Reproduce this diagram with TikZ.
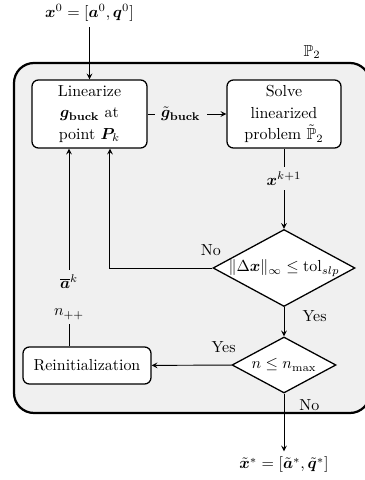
\documentclass[tikz,border=0pt]{standalone}
\usepackage{amsmath,amssymb,bm}
\usetikzlibrary{calc,positioning,shapes.geometric}
\definecolor{panelgray}{gray}{0.94}
\tikzset{
  procbox/.style={draw,thick,rounded corners=4pt,fill=white,align=center,inner sep=3pt},
  decision/.style={draw,thick,diamond,aspect=1.85,fill=white,inner sep=0pt},
  flow/.style={->,>=stealth,semithick},
  onpanel/.style={fill=panelgray,inner sep=3pt},
}

\begin{document}
\begin{tikzpicture}
        \useasboundingbox (0,0) rectangle (8.008,10.56);
        % The panel of problem P2
        \draw[line width=1.4pt,rounded corners=0.44cm,fill=panelgray] (0.308,1.474) rectangle (8.14,9.174);
        \node (ptwo) at (6.864,9.416) {$\mathbb{P}_2$};

        % Start and result
        \node (init) at (1.969,10.274) {$\bm x^0=[\bm a^0,\bm q^0]$};
        \node (result) at (6.248,0.33) {$\tilde{\bm x}^*=[\tilde{\bm a}^*,\tilde{\bm q}^*]$};

        % The steps
        \node[procbox,minimum width=2.53cm,minimum height=1.496cm] (lin) at (1.969,8.052)
          {Linearize\\[1.5pt] $\bm g_{\mathbf{buck}}$ at\\[1.5pt] point $\bm P_k$};
        \node[procbox,minimum width=2.508cm,minimum height=1.496cm] (sol) at (6.248,8.052)
          {Solve\\[1.5pt] linearized\\[1.5pt] problem $\tilde{\mathbb{P}}_2$};
        \node[decision,minimum width=3.124cm,minimum height=1.694cm] (conv) at (6.248,4.664)
          {$\|\Delta\bm x\|_\infty\leq\mathrm{tol}_{slp}$};
        \node[decision,minimum width=2.288cm,minimum height=1.232cm] (iter) at (6.248,2.53)
          {$n\leq n_{\max}$};
        \node[procbox,minimum width=2.816cm,minimum height=0.814cm] (reinit) at (1.914,2.519)
          {Reinitialization};

        % Feedback points under the first step
        \coordinate (backl) at ($(lin.south)+(-0.45,0)$);
        \coordinate (backr) at ($(lin.south)+(0.45,0)$);

        % The connectors
        \draw[flow] (init) -- (lin);
        \draw[flow] (lin) -- node[onpanel,pos=0.42,inner sep=4pt] {$\tilde{\bm g}_{\mathbf{buck}}$} (sol);
        \draw[flow] (sol) -- node[onpanel,pos=0.37] {$\bm x^{k+1}$} (conv);
        \draw[flow] (conv.west) -- node[pos=0.0,above left=4pt and -9pt] {No} (conv.west -| backr) -- (backr);
        \draw[flow] (conv) -- node[pos=0.3,right=8pt] {Yes} (iter);
        \draw[flow] (iter) -- node[pos=0.1,above=4pt] {Yes} (reinit);
        \draw[flow] (iter) -- node[pos=0.2,right=6pt] {No} (result);
        \draw[flow] (reinit.north -| backl) -- node[onpanel,pos=0.25,align=center]
          {$\overline{\bm a}^k$\\[5pt] $n_{++}$} (backl);
    \end{tikzpicture}
\end{document}
